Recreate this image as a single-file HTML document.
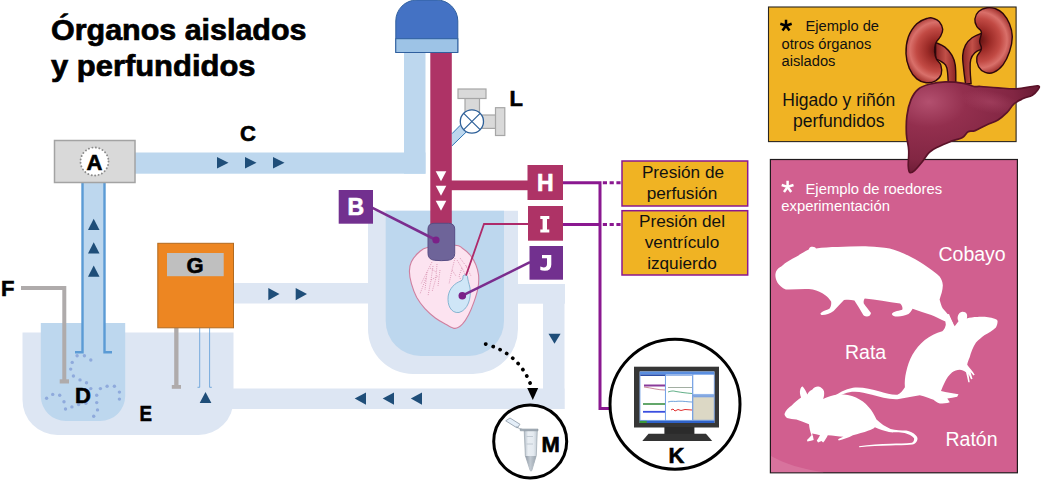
<!DOCTYPE html>
<html><head><meta charset="utf-8">
<style>
html,body{margin:0;padding:0;background:#fff;}
body{width:1041px;height:481px;overflow:hidden;position:relative;font-family:"Liberation Sans",sans-serif;}
svg{position:absolute;left:0;top:0;display:block;}
text{font-family:"Liberation Sans",sans-serif;}
.lb{font-weight:bold;font-size:22px;fill:#000;stroke:#000;stroke-width:0.6px;}
.lw{font-weight:bold;font-size:23px;fill:#fff;stroke:#fff;stroke-width:0.6px;}
</style></head><body>
<svg width="1041" height="481" viewBox="0 0 1041 481">
<defs>
<radialGradient id="kg" cx="0.55" cy="0.4" r="0.7"><stop offset="0" stop-color="#e0786c"/><stop offset="0.55" stop-color="#c4453f"/><stop offset="1" stop-color="#8e2420"/></radialGradient>
<radialGradient id="kgl" gradientUnits="userSpaceOnUse" cx="938" cy="50" r="36"><stop offset="0" stop-color="#5e1010"/><stop offset="0.3" stop-color="#9c2b27"/><stop offset="0.6" stop-color="#c24a44"/><stop offset="0.78" stop-color="#d9706a"/><stop offset="1" stop-color="#9c2b27"/></radialGradient>
<radialGradient id="kgr" gradientUnits="userSpaceOnUse" cx="979" cy="40" r="36"><stop offset="0" stop-color="#5e1010"/><stop offset="0.3" stop-color="#9c2b27"/><stop offset="0.6" stop-color="#c24a44"/><stop offset="0.78" stop-color="#d9706a"/><stop offset="1" stop-color="#9c2b27"/></radialGradient>
<linearGradient id="ug" x1="0" y1="0" x2="1" y2="0"><stop offset="0" stop-color="#8a2424"/><stop offset="0.5" stop-color="#c25048"/><stop offset="1" stop-color="#8a2424"/></linearGradient>
<clipPath id="lc"><path d="M911.0 99.7 C913.2 94.5 914.2 92.6 917.9 89.5 C921.5 86.3 923.8 85.7 929.3 84.2 C934.8 82.7 938.5 82.1 945.3 81.9 C952.2 81.7 957.9 82.4 963.6 83.3 C969.4 84.2 970.5 85.8 973.9 86.5 C977.4 87.1 976.0 86.2 980.8 86.5 C985.6 86.8 990.9 87.4 998.0 87.8 C1005.1 88.3 1009.4 89.0 1016.3 88.8 C1023.1 88.5 1027.8 87.0 1032.3 86.5 C1036.8 85.9 1037.6 85.4 1038.7 86.0 C1039.9 86.6 1039.3 87.6 1038.0 89.5 C1036.7 91.3 1035.3 93.3 1032.3 95.2 C1029.3 97.0 1026.8 96.9 1023.1 98.6 C1019.5 100.3 1017.2 101.1 1014.0 103.9 C1010.8 106.6 1010.3 109.1 1007.1 112.3 C1003.9 115.5 1002.1 117.4 998.0 119.9 C993.9 122.4 991.1 122.8 986.5 124.9 C982.0 127.1 978.8 129.3 975.1 130.6 C971.4 132.0 970.7 130.4 968.2 131.8 C965.7 133.2 965.7 135.7 962.5 137.5 C959.3 139.3 957.0 139.1 952.2 140.9 C947.4 142.8 943.1 144.4 938.5 146.7 C933.9 148.9 932.5 149.4 929.3 152.4 C926.1 155.4 925.4 157.9 922.5 161.5 C919.5 165.2 917.0 168.5 914.5 170.7 C911.9 172.9 911.1 173.4 909.9 172.5 C908.6 171.6 908.5 170.6 908.3 166.1 C908.0 161.6 909.1 156.5 908.7 150.1 C908.4 143.7 906.8 140.9 906.4 134.1 C906.1 127.2 906.0 122.6 906.9 115.8 C907.8 108.9 908.8 105.0 911.0 99.7 Z"/></clipPath>
<linearGradient id="tg" x1="0" y1="0" x2="1" y2="0"><stop offset="0" stop-color="#b4bec8"/><stop offset="0.3" stop-color="#e9eef3"/><stop offset="0.7" stop-color="#e4eaf0"/><stop offset="1" stop-color="#c3ccd5"/></linearGradient>
<linearGradient id="tg2" x1="0" y1="0" x2="1" y2="0"><stop offset="0" stop-color="#8f99a4"/><stop offset="0.45" stop-color="#c2cad2"/><stop offset="1" stop-color="#9aa4ae"/></linearGradient>
<radialGradient id="lh"><stop offset="0" stop-color="#a84564" stop-opacity="0.65"/><stop offset="1" stop-color="#a84564" stop-opacity="0"/></radialGradient>
<radialGradient id="lg" cx="0.17" cy="0.22" r="0.8"><stop offset="0" stop-color="#b3506f"/><stop offset="0.35" stop-color="#932f4e"/><stop offset="0.8" stop-color="#822643"/><stop offset="1" stop-color="#6d1c36"/></radialGradient>
</defs>
<!-- SECTION:TITLE -->
<text x="51" y="39.500" font-size="29" font-weight="bold" stroke="#000" stroke-width="0.7" textLength="255.500" lengthAdjust="spacingAndGlyphs">Órganos aislados</text>
<text x="51" y="76.400" font-size="29" font-weight="bold" stroke="#000" stroke-width="0.7" textLength="204.500" lengthAdjust="spacingAndGlyphs">y perfundidos</text>
<!-- SECTION:LEFT -->
<!-- outer bath E -->
<path d="M22.500 332.500 H233.500 V400 A35 35 0 0 1 198.500 435 H57.500 A35 35 0 0 1 22.500 400 Z" fill="#dde6f3"/>
<!-- return pipe bottom -->
<rect x="225" y="388.500" width="339.500" height="20.500" fill="#dde6f3"/>
<!-- pipe from G to organ bath -->
<rect x="233" y="283" width="140" height="20.500" fill="#dde6f3"/>
<!-- inner flask D -->
<path d="M40.800 323 H125.200 V396 A25 25 0 0 1 100.200 421 H65.800 A25 25 0 0 1 40.800 396 Z" fill="#bdd7ee"/>
<!-- pipe C horizontal + vertical to cap -->
<rect x="135" y="152.500" width="290.500" height="21.200" fill="#bdd7ee"/>
<rect x="404" y="50" width="21.500" height="123.700" fill="#bdd7ee"/>
<!-- vertical pipe under A -->
<rect x="82" y="182" width="23" height="170" fill="#bdd7ee"/>
<path d="M75 352.300 H82.500 V182" fill="none" stroke="#5b9bd5" stroke-width="2.400"/>
<path d="M112 352.300 H104.500 V182" fill="none" stroke="#5b9bd5" stroke-width="2.400"/>
<!-- bubbles -->
<g fill="#8faadc">
<circle cx="77.100" cy="355.700" r="1.700"/><circle cx="84.400" cy="355.700" r="1.700"/><circle cx="90.800" cy="360" r="1.700"/>
<circle cx="72.200" cy="362.400" r="1.700"/><circle cx="70.700" cy="369.100" r="1.700"/><circle cx="73.400" cy="376" r="1.700"/>
<circle cx="80" cy="379.900" r="1.700"/><circle cx="86.500" cy="382.800" r="1.700"/><circle cx="90.800" cy="388.600" r="1.700"/>
<circle cx="100.400" cy="388.600" r="1.700"/><circle cx="107.100" cy="386.300" r="1.700"/><circle cx="114.400" cy="386.300" r="1.700"/>
<circle cx="119.400" cy="392.100" r="1.700"/><circle cx="119.400" cy="399.100" r="1.700"/><circle cx="96.700" cy="395.300" r="1.700"/>
<circle cx="96.700" cy="402.600" r="1.700"/><circle cx="97.500" cy="409.900" r="1.700"/><circle cx="93.700" cy="416.300" r="1.700"/>
<circle cx="46.600" cy="398.200" r="1.700"/><circle cx="52.700" cy="394.400" r="1.700"/><circle cx="59.700" cy="395.300" r="1.700"/>
<circle cx="64" cy="401.700" r="1.700"/><circle cx="65.500" cy="409" r="1.700"/><circle cx="71.900" cy="406.900" r="1.700"/>
<circle cx="78.600" cy="404.600" r="1.700"/><circle cx="85.900" cy="403.200" r="1.700"/>
</g>
<!-- F wire -->
<path d="M21 288 H64.300 V380" fill="none" stroke="#afabab" stroke-width="4"/>
<rect x="59.700" y="379.300" width="9.300" height="4.200" fill="#afabab"/>
<!-- G rod -->
<rect x="174.200" y="328" width="4.300" height="57.500" fill="#afabab"/>
<rect x="171.800" y="385" width="9.200" height="3.800" fill="#afabab"/>
<!-- thin tube -->
<path d="M197.500 387.300 H199.700 V328 M211.800 387.300 H209.600 V328" fill="none" stroke="#5b9bd5" stroke-width="0.800"/>
<!-- arrows -->
<g fill="#1f4e79">
<path d="M217 157 L228.500 162.700 L217 168.500 Z"/><path d="M245 157 L256.500 162.700 L245 168.500 Z"/><path d="M273 157 L284.500 162.700 L273 168.500 Z"/>
<path d="M88 230 L93.700 218.700 L99.500 230 Z"/><path d="M88 253.500 L93.700 242.200 L99.500 253.500 Z"/><path d="M88 276.700 L93.700 265.400 L99.500 276.700 Z"/>
<path d="M199.700 403 L205.500 392 L211.400 403 Z"/>
<path d="M268.300 288 L279.500 294 L268.300 300.200 Z"/><path d="M295.700 288 L307 294 L295.700 300.200 Z"/>
<path d="M366 392.500 L354.700 398.600 L366 404.700 Z"/><path d="M394 392.500 L382.700 398.600 L394 404.700 Z"/><path d="M422 392.500 L410.800 398.600 L422 404.700 Z"/>
</g>
<!-- A box -->
<rect x="54.500" y="140.500" width="80.500" height="42" fill="#d9d9d9" stroke="#a3a3a3" stroke-width="1.500"/>
<circle cx="94.500" cy="161.500" r="14" fill="#fff" stroke="#8c8c8c" stroke-width="1.900" stroke-dasharray="0.100 3.420" stroke-linecap="round"/>
<text class="lb" x="94.500" y="169.500" text-anchor="middle">A</text>
<!-- G box -->
<rect x="157.800" y="243.300" width="75.700" height="84.500" fill="#ed8622" stroke="#b26a1f" stroke-width="1"/>
<rect x="167" y="253" width="56.700" height="23.200" fill="#bfbfbf"/>
<text class="lb" x="195" y="272.500" text-anchor="middle">G</text>
<text class="lb" x="240" y="140.500">C</text>
<text class="lb" x="1" y="295.500">F</text>
<text class="lb" x="75" y="402.500">D</text>
<text class="lb" x="139.500" y="420.500" textLength="12.500" lengthAdjust="spacingAndGlyphs">E</text>
<!-- /SECTION:LEFT -->
<!-- SECTION:CENTER -->
<!-- organ bath outer/inner -->
<path d="M368 210.700 H518 V329 A45 45 0 0 1 473 374 H413 A45 45 0 0 1 368 329 Z" fill="#dde6f3"/>
<rect x="517" y="284" width="48" height="19.700" fill="#dde6f3"/>
<rect x="543" y="284" width="21.500" height="125" fill="#dde6f3"/>
<path d="M385.700 210.700 H504 V321 A35 35 0 0 1 469 356 H420.700 A35 35 0 0 1 385.700 321 Z" fill="#bdd7ee"/>
<path d="M548.500 333.800 H560.600 L554.500 343.800 Z" fill="#1f4e79"/>
<!-- magenta pipes -->
<rect x="430.300" y="50" width="21.500" height="176" fill="#ae3366"/>
<rect x="451" y="180.500" width="78" height="9.700" fill="#ae3366"/>
<g fill="#fff">
<path d="M435.700 171.200 H446.300 L441 181.200 Z"/><path d="M435.700 185.800 H446.300 L441 195.800 Z"/><path d="M435.700 200.700 H446.300 L441 210.700 Z"/>
</g>
<!-- cap -->
<path d="M395.800 52.500 V21 A21 21 0 0 1 416.800 0 H436.800 A21 21 0 0 1 457.800 21 V52.500 Z" fill="#4472c4" stroke="#2f5f9e" stroke-width="1"/>
<rect x="395.800" y="38.700" width="62" height="13.800" fill="#9dc3e6" stroke="#2f5f9e" stroke-width="1"/>
<!-- valve -->
<path d="M452 133.700 L460.300 125.200 L466 132.200 L452 145.800 Z" fill="#bdd7ee"/>
<path d="M452 133.700 L460.300 125.200 M466 132.200 L452 145.800" stroke="#2e75b6" stroke-width="1" fill="none"/>
<g fill="#d9d9d9" stroke="#a6a6a6" stroke-width="1.200">
<rect x="465" y="98" width="14.500" height="14"/>
<rect x="458" y="89" width="28" height="9.500"/>
<rect x="482" y="115" width="14" height="13.400"/>
<rect x="495.500" y="107.700" width="9.300" height="27.800"/>
</g>
<circle cx="471.900" cy="121.500" r="11.600" fill="#fff" stroke="#2e6099" stroke-width="1.300"/>
<path d="M463.700 113.300 L480.100 129.700 M480.100 113.300 L463.700 129.700" stroke="#2e6099" stroke-width="1.200"/>
<text class="lb" x="509.500" y="106">L</text>
<!-- heart -->
<path d="M428.1 247.3 C422.0 248.5 421.5 250.0 418.7 252.5 C415.9 254.9 413.0 258.7 411.4 261.8 C409.9 264.9 409.4 267.5 409.4 271.2 C409.4 274.8 410.2 279.3 411.4 283.7 C412.6 288.0 414.4 293.0 416.6 297.2 C418.9 301.3 421.8 305.1 424.9 308.6 C428.1 312.1 431.9 315.4 435.3 318.0 C438.8 320.6 442.4 322.5 445.7 324.2 C449.0 325.9 452.3 328.4 455.1 328.4 C457.9 328.4 460.1 326.5 462.4 324.2 C464.6 321.9 466.7 318.5 468.6 314.8 C470.5 311.2 472.2 306.9 473.8 302.4 C475.4 297.9 477.2 292.3 478.0 287.8 C478.8 283.3 478.9 279.2 478.6 275.3 C478.2 271.5 477.2 268.2 475.9 264.9 C474.6 261.7 472.9 258.4 470.7 255.6 C468.4 252.8 465.0 250.0 462.4 248.3 C459.8 246.6 460.8 245.4 455.1 245.2 C449.4 245.0 434.1 246.1 428.1 247.3 Z" fill="#fce3f0" stroke="#cf7f9f" stroke-width="1.100"/>
<g fill="none" stroke="#d58aaa" stroke-width="0.900" stroke-dasharray="0.900 1.300">
<path d="M432 262 L427 272 L421 284 M430 268 L436 272 M427 272 L425 290 M433 266 L431 280 L428 296 M431 280 L438 276 M437 264 L436 278 L432 292 M440 270 L438 286 M426 278 L420 294"/>
<path d="M455 258 L452 270 L449 284 M457 260 L462 268 L467 278 M460 258 L466 266 L471 276 M452 270 L456 276 M462 268 L459 276 L462 282 M466 266 L470 268"/>
</g>
<!-- balloon -->
<path d="M463 277 C462.500 274.500 467 274 467.500 276.500 C467.700 280 469 283 470 288 C471.500 298 468 310 459 312.500 C451 313.500 447 305 448.200 296 C449.500 288 455 283 461 281 C462.500 280 463 278.500 463 277 Z" fill="#cfe6f7" stroke="#6fa8c8" stroke-width="0.800"/>
<!-- cannula -->
<path d="M428 229 Q428 223.500 434 223.300 H448.500 Q454.700 223.500 454.700 229 V253.500 Q454.700 259.500 448 260.300 Q441.300 261 434.500 260.300 Q428 259.500 428 253.500 Z" fill="#6e6499" stroke="#584d84" stroke-width="1"/>
<!-- I line -->
<path d="M529 224 H484 L466 275.500" fill="none" stroke="#ae2a6a" stroke-width="1.800"/>
<!-- B line -->
<path d="M372 207.700 L436 240" stroke="#7b2d8e" stroke-width="2.600"/>
<circle cx="436" cy="240" r="3.600" fill="#7b2188"/>
<!-- J line -->
<path d="M530 262.200 L462.300 295.700" stroke="#7b2d8e" stroke-width="2.600"/>
<circle cx="462.300" cy="295.700" r="3.800" fill="#7b2188"/>
<!-- boxes -->
<rect x="338.700" y="190" width="34.300" height="33.700" fill="#72308f"/>
<rect x="527.500" y="165" width="35.500" height="35" fill="#ae3366"/>
<rect x="528" y="206" width="35" height="34.700" fill="#ae3366"/>
<rect x="529.500" y="246" width="33.500" height="33.700" fill="#72308f"/>
<text class="lw" x="355.800" y="215" text-anchor="middle">B</text>
<text class="lw" x="545.300" y="190.500" text-anchor="middle">H</text>
<path d="M540.300 216 H549.300 V219 H547 V229.400 H549.300 V232.400 H540.300 V229.400 H542.600 V219 H540.300 Z" fill="#fff"/>
<path d="M542 255 H551.300 V264.500 Q551.300 270.800 544.800 270.800 Q542 270.800 540.300 270 V266.600 Q542 267.400 543.600 267.400 Q547 267.400 547 264 V258.200 H542 Z" fill="#fff"/>
<!-- purple signal lines -->
<path d="M563 182.800 H600 M563 224.500 H600 M600 181.300 V408.500 H612" fill="none" stroke="#8a1890" stroke-width="3"/>
<path d="M602.800 182.800 H622 M602.800 224.500 H622" fill="none" stroke="#8a1890" stroke-width="3" stroke-dasharray="4.200 2.600"/>
<!-- label boxes -->
<rect x="622" y="161" width="125.700" height="45" fill="#f0b323" stroke="#8a1890" stroke-width="1.500"/>
<rect x="622" y="210.700" width="125.700" height="64.300" fill="#f0b323" stroke="#8a1890" stroke-width="1.500"/>
<g font-size="17.200" text-anchor="middle" fill="#111">
<text x="683" y="177.700">Presión de</text><text x="682" y="199">perfusión</text>
<text x="682" y="227">Presión del</text><text x="682" y="247.500">ventrículo</text><text x="682" y="268.700">izquierdo</text>
</g>
<!-- dotted arc to M -->
<path d="M485.700 344.100 Q519.500 353.500 531.200 386" fill="none" stroke="#000" stroke-width="3.700" stroke-dasharray="0.100 7.550" stroke-linecap="round"/>
<path d="M527.200 388 H538.200 L532.800 400 Z" fill="#000"/>
<!-- M circle -->
<circle cx="530.200" cy="441.400" r="36.500" fill="#fff" stroke="#000" stroke-width="3"/>
<g>
<path d="M505.700 420.800 L510 418 L520 424.300 L517.200 428 Z" fill="#e4eef8" stroke="#8a97a5" stroke-width="0.800"/>
<path d="M516.500 426.500 L519.500 428.700 L524.500 430" fill="none" stroke="#8a97a5" stroke-width="0.900"/>
<path d="M524.200 430.500 H537.300 L536.300 455.500 L531.800 470.500 Q531 472 530.200 470.500 L525.300 455.500 Z" fill="url(#tg)" stroke="#8d98a3" stroke-width="0.600"/>
<path d="M525.400 456 H536.200 L531.800 470.300 Q531 471.600 530.200 470.300 Z" fill="url(#tg2)"/>
<path d="M520.300 429 H538 V430.800 H520.300 Z" fill="#aab4be" stroke="#7d8893" stroke-width="0.500"/>
<path d="M526.500 436.500 H533 M526.500 444 H533" fill="none" stroke="#b8c2cc" stroke-width="0.800"/>
</g>
<text class="lb" x="541.500" y="451.600">M</text>
<!-- K circle -->
<circle cx="675" cy="404.200" r="65" fill="#fff" stroke="#000" stroke-width="3"/>
<rect x="634" y="366.700" width="85" height="60.800" fill="#363636"/>
<rect x="664.400" y="427" width="30" height="7" fill="#2b2b2b"/>
<path d="M648.500 433.800 H706 L712.200 441 H642.300 Z" fill="#333"/>
<rect x="639.700" y="371.500" width="74.700" height="51.500" fill="#fff"/>
<rect x="639.700" y="371.500" width="74.700" height="2.600" fill="#5b8fe0"/>
<rect x="639.700" y="420.400" width="74.700" height="2.600" fill="#2f62c9"/>
<rect x="639.700" y="420.400" width="7" height="2.600" fill="#3a9a3a"/>
<rect x="640" y="374.300" width="25.300" height="46" fill="#fff" stroke="#5b8fe0" stroke-width="0.700"/>
<rect x="665.600" y="374.300" width="27" height="46" fill="#fff" stroke="#5b8fe0" stroke-width="0.700"/>
<rect x="692.900" y="374.300" width="21.300" height="20" fill="#fff" stroke="#5b8fe0" stroke-width="0.700"/>
<rect x="692.900" y="395.500" width="21.300" height="24.700" fill="#dcd8c5" stroke="#5b8fe0" stroke-width="0.700"/>
<rect x="640.300" y="374.500" width="24.700" height="1.500" fill="#2d4fa8"/><rect x="666" y="374.500" width="26.400" height="1.500" fill="#9bb8e8"/>
<rect x="693.200" y="395.800" width="20.700" height="1.500" fill="#7fa3e0"/>
<g fill="none">
<path d="M644 385.500 H665" stroke="#8b3a9a" stroke-width="2"/><path d="M644 387 C652 388 658 390 665 390" stroke="#b05a70" stroke-width="0.700"/>
<path d="M643 404 H665" stroke="#2f8a3a" stroke-width="1.500"/><path d="M643 411.800 H665" stroke="#3a4fe0" stroke-width="1.800"/>
<path d="M668 387.500 H692" stroke="#8a9a8a" stroke-width="0.800"/>
<path d="M668 392 C671 391 673 390.500 676 391.500 C682 392.500 686 393 692 393.500" stroke="#3a9a6a" stroke-width="0.800"/>
<path d="M668 402 C672 400.500 675 402 678 401.200 C684 401 688 402 692 402" stroke="#4a8ad0" stroke-width="0.800"/>
<path d="M671 410 L673 409 L675 411 L678 409.500 L681 410.500 L685 409.500 L692 410" stroke="#e03030" stroke-width="1"/>
</g>
<text class="lb" x="668.500" y="463.200">K</text>
<!-- /SECTION:CENTER -->
<!-- SECTION:RIGHT -->
<!-- gold box -->
<rect x="768.500" y="7" width="247.600" height="134.600" fill="#f0b323" stroke="#2a2520" stroke-width="1.100"/>
<g font-size="14.700" fill="#111">
<text x="805.500" y="31">Ejemplo de</text><text x="781.500" y="48.500">otros órganos</text><text x="781.500" y="66">aislados</text>
</g>
<path d="M786.0 25.7 L786.0 19.7 M786.0 25.7 L791.7 23.8 M786.0 25.7 L789.5 30.6 M786.0 25.7 L782.5 30.6 M786.0 25.7 L780.3 23.8" stroke="#000" stroke-width="2.5" fill="none"/>
<g font-size="17.500" fill="#111" text-anchor="middle"><text x="838.700" y="106.400">Higado y riñón</text><text x="838.700" y="127.200">perfundidos</text></g>
<!-- pink box -->
<rect x="770.400" y="159.500" width="247" height="313.300" fill="#d15f8f" stroke="#1f1a1c" stroke-width="1.200"/>
<path d="M771 456 C785 464 802 469 824 472.200 H771 Z" fill="#dc80a6" opacity="0.600"/>
<g font-size="14.800" fill="#fff"><text x="805.500" y="193.800">Ejemplo de roedores</text><text x="781.300" y="211">experimentación</text></g>
<path d="M787.6 186.9 L787.6 180.7 M787.6 186.9 L793.5 185.0 M787.6 186.9 L791.2 191.9 M787.6 186.9 L784.0 191.9 M787.6 186.9 L781.7 185.0" stroke="#fff" stroke-width="2.5" fill="none"/>
<g font-size="19.500" fill="#fff"><text x="938.500" y="261.300">Cobayo</text><text x="845" y="359">Rata</text><text x="945.500" y="445.500">Ratón</text></g>
<!-- guinea pig -->
<path fill="#fff" d="M775.400 274.500 C776 270 778 268 781.600 266.200 C786 262 791 259.500 796.200 256.800 C800 254.500 804 252 808.700 249.600 C809.500 247.500 810.500 246.500 811.800 246.800 C814 246.500 815.500 247.500 816 248.500 C823 247.500 830 247 837.800 247 C848 246.500 858 246.200 869 246.400 C876 246.600 883 247.200 889.700 248.500 C897 250.500 904 253.500 910.500 256.800 C917 260 923 264 929.200 268.300 C933 271 936.500 273.500 939.600 276.600 C941.500 279 942.500 282 942.800 284.900 C943 290 941 295 939.600 299.400 C940.5 303 941.5 306 942.8 308.500 C944.5 310.500 946.500 312.500 948 314.500 C950 317 951.500 320 952.800 323 C953.500 327 952.500 330 951 333 L944.500 333 C945.500 329 946.200 325 945.500 321.500 C941 319.500 936 317 931.300 315 C925 313 919 311 912.600 308.800 C911.500 311 910 313 908.500 314 C905 315.500 901.500 316.500 898 316.500 C895 316.700 892.500 316 891.800 314 C893 312 897 311 902.200 309.800 C903 307.500 902 305.500 900.100 303.600 C888 301.500 876 299.800 864.800 298.400 C863.500 300 863.500 302 863.800 303.600 C866 307 868.800 310 871 313 C870.500 315.500 869 316.500 866.900 316.500 C864.500 316.500 863.300 315.500 862.700 314 C860 309.500 857.500 305 854.400 300.500 C851 299.500 847.500 299.500 844 299.900 C840.500 303.500 837 307 833.600 310.900 C830 313.500 826 314.800 822.200 315 C820.500 314.800 820.300 313.800 820.700 313 C823.500 311 826.500 310 829.400 308.800 C831 306.500 831.500 304 831.100 301.500 C829.500 299 827.500 297 825.300 295.300 C821.500 292.500 817.500 290.500 812.800 289.500 C804 288.500 795 289.800 785.800 289.500 C782 288 779.500 285.500 777.500 282.800 C776 280 775.300 277.500 775.400 274.500 Z"/>
<!-- rat (standing) -->
<path fill="#fff" d="M958.500 321.200 C956.500 318 958 312.500 962.200 311.800 C966.500 311.500 968 315 966.800 318.500 C970 317.500 973.500 317 977.200 317 C983 316.500 989 317 994.600 318.700 C996.500 319.300 997.600 320.200 997.600 321.200 C997.500 323.500 997 325.500 995.900 327.400 C992.500 330.500 988.500 332.800 984.700 334.900 C981.500 337.200 978.500 339.800 976 342.400 C973 347 971 352 969.700 357.300 C968.500 360 967.500 362.500 967.200 364.800 C969.500 368 972.500 371 974.700 374.800 L973.500 375.500 L970.500 372 L972.500 379 L971 379.300 L968.500 374 L969.700 382.300 L968.300 382.300 C967.500 379 967 375.500 966 372.300 C964 371 962 370 959.700 369.800 C957 370 954.500 371 952.200 372.300 C949 375 946.500 378.500 944.800 382.300 C943.500 385 942 388 941 391 C946.500 392.500 952.500 393 958.500 394.200 L957.200 396.700 C954 397.500 950.500 398 947.300 398.500 L949.800 402.200 C946.500 403.200 943 403.500 939.800 403.500 C937 402.500 935 401.200 933.500 399.700 C930 398.500 925 396.500 919.800 395.200 C912 396.500 905 398 897.400 399.200 C888 399.500 880 397 872 394.800 C865 392.800 859 391.200 852 391.800 C845 392.800 839 395.500 833 399.500 L832 398.200 C838 393 845 389.200 853 387.800 C862 387 871 389 879.900 391.500 C886 393.500 892 395 897.400 394.700 C900.500 393.500 903 390.500 904.900 387.300 C904.500 382 905 377 906.100 372.300 C907.500 366 909.500 360 912.400 354.800 C915.500 349 920 344 924.800 339.900 C930 336 936 333 942.300 331.200 C944 329.500 945.300 327.500 946 324.900 C945.800 321.500 945.200 318 944.800 315 L949 314 C950.500 318 952.500 322.500 954.700 326.200 C956 324.500 957.300 322.800 958.500 321.200 Z"/>
<!-- mouse -->
<path fill="#fff" d="M784.500 414.100 C785.500 410.500 788.500 407.500 791.700 405.400 C794.500 402.500 797.800 399.800 801.100 397.500 C800 395 799.500 392 800.200 389.700 C800.800 387.500 801.800 386.300 802.700 386.500 C804.500 388.500 806 391.500 807.400 394.400 C808.500 392 810 390.500 812.100 389.700 C814 387.500 816.200 386.300 818.400 386.500 C821 387 823.200 388.800 824 391.200 C824.500 394 824 396.800 823.100 399.100 C827.500 396.800 832.500 395 837.200 394.400 C843.500 394 850 395.200 856 397.500 C861 399.800 865.200 403 868.600 406.900 C872 410.500 874.500 415 876.500 419.500 C880.500 423.500 885.500 426.800 890.600 428.900 C895.500 430.300 901 430.200 906.300 430.500 C910 431.200 913.500 432.800 915.700 435.200 C917.500 436.800 917.800 438.500 917.300 439.900 C916.500 442.500 914.800 443.800 912.600 444.600 C905 445.800 897.500 445.200 890.600 445.500 C880 445.600 869.500 446.200 859.200 447.300 L859 446.200 C869.500 444.800 880 444.200 890.600 443.800 C898 443.500 905.500 443.800 912 442.800 C913.500 442 914.300 440.200 914.100 438.300 C912 435.800 908.500 434 904.700 433 C899.500 432.200 894 432.800 889 432 C884 431 879.500 429.300 874.900 427.300 C873 429 870.800 430 868.600 430.500 C863.500 432.500 858 433.800 852.900 435.200 C848.500 437.500 843.500 439.300 838.800 440.500 L838 439.500 C839.800 438.200 841.500 437.500 843.500 436.800 C838.500 436.300 833 435.500 827.800 435.200 C826.500 437.800 825 440.500 823.100 442.400 L821.500 441 L818 442.500 L816.800 440.500 C818 438.800 819 437 820 435.200 C817.500 434.500 814.800 434 812.100 433.600 C812.800 435.800 813.500 437.800 813.700 439.900 L811 440.800 L807.400 441.500 L807 440 C808.500 438.500 810 437 811.500 435.200 C810.200 431.500 809.300 428 809 424.200 C805 422.500 800.500 421 796.400 419.500 C793 419.200 790 418.700 787 417.900 C785.500 416.800 784.500 415.500 784.500 414.100 Z"/>
<!-- kidneys -->
<g stroke="#2e080c" stroke-width="1.400">
<path d="M935.6 42.4 C937.4 43.4 941.7 44.7 944.9 47.1 C948.1 49.6 949.4 51.1 951.5 54.6 C953.5 58.2 954.4 59.1 955.2 64.9 C956.1 70.7 955.7 79.9 955.8 83.6 L948.3 83.6 C948.0 80.4 948.0 72.0 946.8 67.7 C945.6 63.4 944.4 63.9 942.1 62.1 C939.9 60.3 936.9 59.5 935.6 58.9 Z" fill="url(#ug)"/>
<path d="M982.0 33.1 C980.0 34.0 975.4 35.3 972.1 37.8 C968.8 40.2 967.4 41.7 965.5 45.2 C963.6 48.8 963.1 50.9 962.7 55.5 C962.3 60.2 963.1 63.0 963.6 68.6 C964.2 74.3 965.1 80.6 965.5 83.6 L971.1 83.6 C970.9 81.0 970.3 75.4 970.2 70.5 C970.1 65.7 969.8 62.8 970.8 59.3 C971.7 55.7 972.6 54.8 974.9 52.7 C977.1 50.7 980.6 49.7 982.0 49.0 Z" fill="url(#ug)"/>
<path d="M928.1 18.1 C924.7 19.2 920.8 20.0 916.8 23.7 C912.9 27.5 910.6 30.8 908.4 36.8 C906.3 42.8 905.8 47.3 906.0 53.7 C906.2 60.0 907.2 63.6 909.4 68.6 C911.5 73.7 913.5 76.1 916.8 78.9 C920.2 81.8 922.5 82.3 926.2 82.7 C930.0 83.1 932.6 82.5 935.6 80.8 C938.6 79.1 940.1 77.4 941.2 74.3 C942.2 71.1 941.7 67.9 940.8 64.9 C939.9 61.9 937.7 61.9 936.5 59.3 C935.3 56.7 934.8 55.0 934.6 51.8 C934.4 48.6 934.4 46.4 935.6 43.4 C936.7 40.4 938.8 39.6 940.2 36.8 C941.7 34.0 942.9 32.3 942.7 29.3 C942.5 26.3 941.1 24.0 939.3 21.8 C937.5 19.7 935.9 19.2 933.7 18.5 C931.4 17.7 931.4 17.1 928.1 18.1 Z" fill="url(#kgl)"/>
<path d="M987.0 7.8 C983.7 8.4 981.1 9.3 978.6 11.6 C976.2 13.8 975.3 16.0 974.9 19.0 C974.5 22.0 975.4 23.9 976.8 26.5 C978.1 29.1 980.9 29.1 981.4 32.1 C982.0 35.1 979.6 38.1 979.6 41.5 C979.6 44.9 982.0 45.8 981.4 49.0 C980.9 52.2 977.3 53.9 976.8 57.4 C976.2 61.0 976.9 63.8 978.6 66.8 C980.3 69.8 982.2 71.3 985.2 72.4 C988.2 73.5 990.0 73.9 993.6 72.4 C997.2 70.9 999.8 69.0 1003.0 64.9 C1006.1 60.8 1007.6 57.4 1009.5 51.8 C1011.4 46.2 1012.3 42.4 1012.3 36.8 C1012.3 31.2 1011.4 28.4 1009.5 23.7 C1007.6 19.0 1005.8 16.4 1003.0 13.4 C1000.1 10.4 998.7 9.9 995.5 8.7 C992.3 7.6 990.4 7.2 987.0 7.8 Z" fill="url(#kgr)"/>
</g>
<!-- liver -->
<path d="M911.0 99.7 C913.2 94.5 914.2 92.6 917.9 89.5 C921.5 86.3 923.8 85.7 929.3 84.2 C934.8 82.7 938.5 82.1 945.3 81.9 C952.2 81.7 957.9 82.4 963.6 83.3 C969.4 84.2 970.5 85.8 973.9 86.5 C977.4 87.1 976.0 86.2 980.8 86.5 C985.6 86.8 990.9 87.4 998.0 87.8 C1005.1 88.3 1009.4 89.0 1016.3 88.8 C1023.1 88.5 1027.8 87.0 1032.3 86.5 C1036.8 85.9 1037.6 85.4 1038.7 86.0 C1039.9 86.6 1039.3 87.6 1038.0 89.5 C1036.7 91.3 1035.3 93.3 1032.3 95.2 C1029.3 97.0 1026.8 96.9 1023.1 98.6 C1019.5 100.3 1017.2 101.1 1014.0 103.9 C1010.8 106.6 1010.3 109.1 1007.1 112.3 C1003.9 115.5 1002.1 117.4 998.0 119.9 C993.9 122.4 991.1 122.8 986.5 124.9 C982.0 127.1 978.8 129.3 975.1 130.6 C971.4 132.0 970.7 130.4 968.2 131.8 C965.7 133.2 965.7 135.7 962.5 137.5 C959.3 139.3 957.0 139.1 952.2 140.9 C947.4 142.8 943.1 144.4 938.5 146.7 C933.9 148.9 932.5 149.4 929.3 152.4 C926.1 155.4 925.4 157.9 922.5 161.5 C919.5 165.2 917.0 168.5 914.5 170.7 C911.9 172.9 911.1 173.4 909.9 172.5 C908.6 171.6 908.5 170.6 908.3 166.1 C908.0 161.6 909.1 156.5 908.7 150.1 C908.4 143.7 906.8 140.9 906.4 134.1 C906.1 127.2 906.0 122.6 906.9 115.8 C907.8 108.9 908.8 105.0 911.0 99.7 Z" fill="url(#lg)" stroke="#5a1228" stroke-width="1.700"/>
<g clip-path="url(#lc)"><ellipse cx="990" cy="102" rx="30" ry="11" fill="url(#lh)" transform="rotate(10 990 102)"/></g>
<!-- /SECTION:RIGHT -->
</svg>
</body></html>
